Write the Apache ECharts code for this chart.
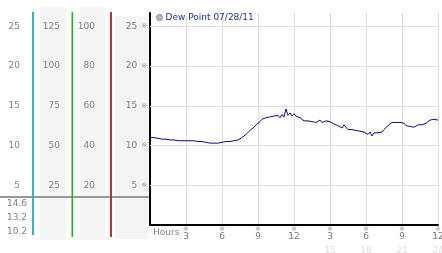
<!DOCTYPE html>
<html><head><meta charset="utf-8">
<script src="https://cdn.jsdelivr.net/npm/echarts@6/dist/echarts.min.js"></script>
<style>html,body{margin:0;padding:0;background:#fff}#c{width:442px;height:253px}</style>
</head><body><div id="c"></div>
<script>
// Dew point readings every 10 minutes, 00:00 .. 24:00
const seriesName = 'Dew Point 07/28/11';
const sampleMinutes = 10;
const dewPoint = [
  11.0,10.9,11.0,10.8,10.9,10.9,
  10.8,10.9,10.8,10.8,10.7,10.8,
  10.7,10.8,10.6,10.7,10.6,10.7,
  10.6,10.5,10.6,10.5,10.6,10.4,
  10.5,10.4,10.5,10.3,10.4,10.4,
  10.3,10.4,10.3,10.2,10.3,10.3,
  10.4,10.3,10.5,10.6,10.5,10.5,
  10.6,10.5,10.7,10.8,11.0,11.2,
  11.4,11.6,11.9,12.1,12.3,12.6,
  12.8,13.0,13.3,13.4,13.5,13.6,
  13.6,13.4,13.7,13.5,13.8,13.5,
  13.9,13.6,14.6,13.8,14.1,13.7,
  14.0,13.7,13.9,13.5,13.6,13.1,
  13.0,13.1,12.9,13.0,13.1,12.9,
  13.0,13.2,12.9,13.0,13.1,12.9,
  13.0,12.9,12.7,12.8,12.5,12.3,
  12.2,12.6,12.4,12.0,11.8,12.0,
  11.8,11.9,11.7,11.8,11.6,11.7,
  11.6,11.4,11.7,11.2,11.6,11.7,
  11.6,11.8,11.7,12.0,12.2,12.5,
  12.7,12.9,12.8,12.9,12.8,12.9,
  12.7,12.8,12.5,12.6,12.4,12.6,
  12.3,12.5,12.6,12.4,12.6,12.7,
  12.8,12.9,13.2,13.1,13.3,13.2,
  13.2
];
const yTicks = [5, 10, 15, 20, 25];
const col2Labels = [25, 50, 75, 100, 125];
const col3Labels = [20, 40, 60, 80, 100];
const xTickHours = [3, 6, 9, 12, 15, 18, 21, 24];

const data = dewPoint.map((v, i) => [i * sampleMinutes / 60, v]);
const statMax = Math.max(...dewPoint);
const statLast = dewPoint[dewPoint.length - 1];
const statMin = Math.min(...dewPoint);

const FONT = 'DejaVu Sans';
const LBL = '#808080';
const yMin = 0, yMax = 26.67;

function mkLabelAxis(offset, fmt) {
  return {
    type: 'value', position: 'left', offset: offset, min: yMin, max: yMax, interval: 5,
    axisLine: {show: false}, axisTick: {show: false}, splitLine: {show: false},
    axisLabel: {margin: 0, color: LBL, fontFamily: FONT, fontSize: 9,
      formatter: v => { const k = yTicks.indexOf(v); return k < 0 ? '' : fmt(k); }}
  };
}
function mkXLabelAxis(margin, size, color, fmt) {
  return {
    type: 'value', position: 'bottom', min: 0, max: 24, interval: 3,
    axisLine: {show: false}, axisTick: {show: false}, splitLine: {show: false},
    axisLabel: {margin: margin, color: color, fontFamily: FONT, fontSize: size,
      formatter: v => xTickHours.indexOf(v) < 0 ? '' : fmt(v)}
  };
}

const chart = echarts.init(document.getElementById('c'), null, {renderer: 'canvas'});
chart.setOption({
  animation: false,
  backgroundColor: '#fff',
  grid: {left: 150, right: 4, top: 13, bottom: 28, containLabel: false, outerBoundsMode: 'none'},
  legend: {
    data: [seriesName], left: 156, top: 13, padding: 0,
    icon: 'circle', itemWidth: 6, itemHeight: 6, itemGap: 3,
    itemStyle: {color: '#bbb', borderColor: '#888', borderWidth: 1},
    textStyle: {color: '#1c2fa8', fontFamily: FONT, fontSize: 9, padding: [0,0,0,-2]}
  },
  xAxis: [
    {
      type: 'value', min: 0, max: 24, interval: 3,
      axisLine: {lineStyle: {color: '#000', width: 2}},
      axisTick: {show: false},
      splitLine: {lineStyle: {color: '#dcdcdc', width: 1}},
      axisLabel: {margin: 7, fontFamily: FONT, fontSize: 9, color: '#777',
        formatter: v => xTickHours.indexOf(v) < 0 ? '' : String(v % 12 === 0 ? 12 : v % 12)}
    },
    mkXLabelAxis(1, 7, '#999', v => '※'),
    mkXLabelAxis(21, 9, '#ddd', v => v > 12 ? String(v) : '')
  ],
  yAxis: [
    {
      type: 'value', min: yMin, max: yMax, interval: 5,
      axisLine: {show: true, lineStyle: {color: '#000', width: 2}},
      axisTick: {show: false}, splitLine: {show: false},
      axisLabel: {margin: 3, fontFamily: FONT,
        formatter: v => yTicks.indexOf(v) < 0 ? '' : '{v|' + v + '}{s|※}',
        rich: {v: {fontSize: 9, color: LBL, fontFamily: FONT},
               s: {fontSize: 7, color: '#999', padding: [0,0,0,4], fontFamily: FONT}}}
    },
    mkLabelAxis(130, k => String(yTicks[k])),
    mkLabelAxis(90, k => String(col2Labels[k])),
    mkLabelAxis(55, k => String(col3Labels[k]))
  ],
  graphic: [
    {type: 'rect', shape: {x: 40, y: 7, width: 26, height: 233}, style: {fill: '#f4f4f4'}, z: -10},
    {type: 'rect', shape: {x: 80, y: 7, width: 25, height: 233}, style: {fill: '#f4f4f4'}, z: -10},
    {type: 'rect', shape: {x: 115, y: 16, width: 33, height: 223}, style: {fill: '#f4f4f4'}, z: -10},
    {type: 'rect', shape: {x: 32, y: 12, width: 2, height: 223}, style: {fill: '#3aaec8'}, z: 5},
    {type: 'rect', shape: {x: 71.5, y: 12, width: 1.5, height: 225}, style: {fill: '#2ea62e'}, z: 5},
    {type: 'rect', shape: {x: 110, y: 12, width: 2, height: 225}, style: {fill: '#c43030'}, z: 5},
    {type: 'rect', shape: {x: 0, y: 196, width: 149, height: 2}, style: {fill: '#999'}, z: 4},
    {type: 'text', left: 7, top: 199, style: {text: statMax.toFixed(1), fill: LBL, font: '9px "DejaVu Sans"'}},
    {type: 'text', left: 7, top: 213, style: {text: statLast.toFixed(1), fill: LBL, font: '9px "DejaVu Sans"'}},
    {type: 'text', left: 7, top: 227, style: {text: statMin.toFixed(1), fill: LBL, font: '9px "DejaVu Sans"'}},
    {type: 'text', left: 153, top: 228, style: {text: 'Hours', fill: LBL, font: '9px "DejaVu Sans"'}}
  ],
  series: [
    {
      name: 'grid', type: 'line', data: [], z: 1, silent: true,
      markLine: {silent: true, symbol: 'none', animation: false,
        label: {show: false},
        lineStyle: {color: '#dcdcdc', type: 'solid', width: 1},
        data: yTicks.map(t => ({yAxis: t}))}
    },
    {
      name: seriesName, type: 'line', data: data, z: 3,
      showSymbol: false, symbol: 'none',
      lineStyle: {color: '#0d0d8a', width: 1},
      itemStyle: {color: '#0d0d8a'}
    }
  ]
});
</script></body></html>
